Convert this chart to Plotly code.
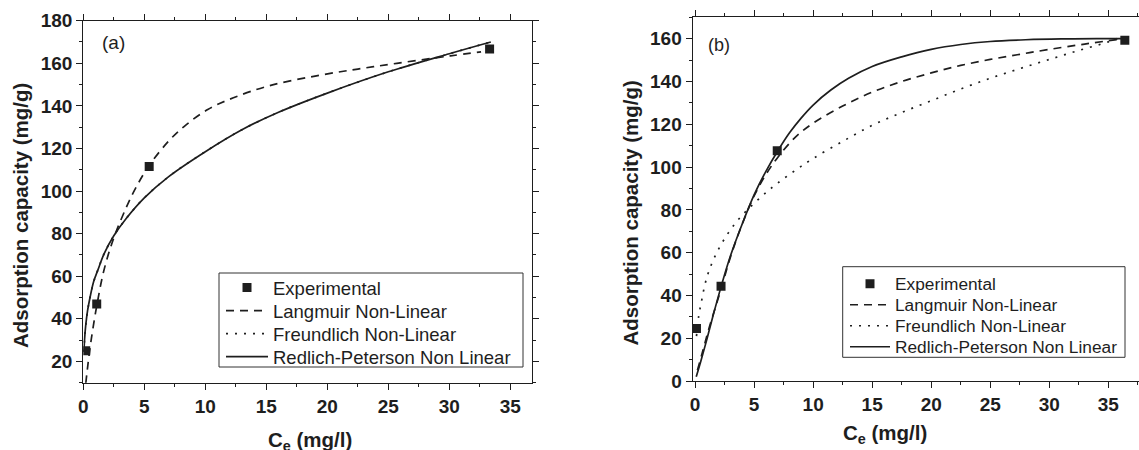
import plotly.graph_objects as go

# ---------------- data: panel (a) ----------------
exp_a_x = [0.2, 1.1, 5.4, 33.3]
exp_a_y = [25.0, 47.0, 111.5, 166.7]

lang_a_x = [0.2, 0.4, 0.67, 1.1, 1.7, 2.5, 3.5, 4.3, 5.4, 7.0, 8.4, 10.2, 12.3, 15.2, 19.0, 22.5, 25.7, 30.1, 32.6]
lang_a_y = [9.5, 19.5, 31.0, 46.0, 63.0, 78.0, 92.0, 101.5, 112.0, 123.5, 131.0, 138.3, 143.8, 149.4, 154.0, 157.3, 160.0, 163.5, 165.4]

freu_a_x = [0.05, 0.1, 0.2, 0.35, 0.55, 0.85, 1.2, 1.7, 2.5, 3.5, 5.0, 7.0, 10.0, 13.0, 16.0, 20.0, 25.0, 30.0, 33.4]
freu_a_y = [24.5, 30.0, 37.0, 43.8, 50.0, 57.5, 63.0, 70.5, 79.0, 87.0, 96.8, 106.8, 118.5, 128.8, 137.0, 146.0, 156.0, 164.5, 170.0]

rp_a_x = [0.05, 0.1, 0.2, 0.35, 0.55, 0.85, 1.2, 1.7, 2.5, 3.5, 5.0, 7.0, 10.0, 13.0, 16.0, 20.0, 25.0, 30.0, 33.4]
rp_a_y = [24.5, 30.0, 37.0, 43.8, 50.0, 57.5, 63.0, 70.5, 79.0, 87.0, 96.8, 106.8, 118.5, 128.8, 137.0, 146.0, 156.0, 164.5, 170.0]

# ---------------- data: panel (b) ----------------
exp_b_x = [0.12, 2.2, 6.96, 36.4]
exp_b_y = [24.5, 44.3, 107.6, 159.3]

lang_b_x = [0.2, 0.6, 1.2, 2.2, 3.0, 3.9, 5.0, 6.0, 7.0, 8.5, 10.0, 12.5, 15.0, 17.5, 20.0, 22.5, 25.0, 27.5, 30.0, 33.0, 36.3]
lang_b_y = [5.0, 13.0, 25.0, 43.0, 58.0, 72.0, 86.5, 96.5, 104.5, 114.0, 120.5, 128.5, 135.0, 140.0, 144.0, 147.5, 150.3, 152.7, 155.0, 157.5, 160.0]

freu_b_x = [0.12, 0.3, 0.5, 1.0, 1.75, 2.67, 3.6, 4.8, 6.0, 7.0, 8.5, 10.0, 12.5, 15.0, 17.5, 20.0, 22.5, 25.0, 27.5, 30.0, 32.5, 35.0, 36.2]
freu_b_y = [21.0, 30.0, 36.0, 48.5, 59.0, 68.0, 75.0, 82.0, 88.0, 92.5, 98.5, 104.0, 112.0, 119.5, 125.5, 131.0, 136.5, 141.5, 146.0, 150.3, 154.5, 158.5, 161.0]

rp_b_x = [0.1, 0.5, 1.0, 1.5, 2.2, 3.0, 4.0, 5.0, 6.0, 7.0, 8.0, 9.0, 10.0, 11.5, 13.0, 15.0, 17.5, 20.0, 22.5, 25.0, 28.0, 31.0, 34.0, 36.3]
rp_b_y = [2.0, 9.5, 19.5, 30.0, 44.0, 58.5, 73.5, 87.0, 98.0, 107.5, 116.0, 123.0, 129.0, 136.0, 141.5, 147.0, 151.5, 155.0, 157.3, 158.7, 159.5, 159.9, 160.0, 160.0]

names = ["Experimental", "Langmuir Non-Linear", "Freundlich Non-Linear", "Redlich-Peterson Non Linear"]

# tick values / labels
x_ticks = [0, 5, 10, 15, 20, 25, 30, 35]
y_ticks_a = [20, 40, 60, 80, 100, 120, 140, 160, 180]
y_ticks_b = [0, 20, 40, 60, 80, 100, 120, 140, 160]

# ---------------- figure ----------------
W, H = 1139, 450
INK = "#1e1e1e"
FONT = "Liberation Sans, Arial, sans-serif"


def px_x(p):
    return p / W


def px_y(p):
    return 1 - p / H


fig = go.Figure()

leg_ids_a = ["legend", "legend2", "legend3", "legend4"]
leg_ids_b = ["legend5", "legend6", "legend7", "legend8"]


def add_panel(xa, ya, legs, ex, ey, lx, ly, fx, fy, rx, ry):
    fig.add_trace(go.Scatter(x=fx, y=fy, mode="lines", name=names[2], legend=legs[2],
                             line=dict(color=INK, width=1.7, dash="2px,7px"),
                             xaxis=xa, yaxis=ya, line_shape="spline"))
    fig.add_trace(go.Scatter(x=lx, y=ly, mode="lines", name=names[1], legend=legs[1],
                             line=dict(color=INK, width=1.7, dash="8px,6px"),
                             xaxis=xa, yaxis=ya, line_shape="spline"))
    fig.add_trace(go.Scatter(x=rx, y=ry, mode="lines", name=names[3], legend=legs[3],
                             line=dict(color=INK, width=1.7),
                             xaxis=xa, yaxis=ya, line_shape="spline"))
    fig.add_trace(go.Scatter(x=ex, y=ey, mode="markers", name=names[0], legend=legs[0],
                             marker=dict(symbol="square", size=9, color=INK),
                             xaxis=xa, yaxis=ya))


add_panel("x", "y", leg_ids_a, exp_a_x, exp_a_y, lang_a_x, lang_a_y, freu_a_x, freu_a_y, rp_a_x, rp_a_y)
add_panel("x2", "y2", leg_ids_b, exp_b_x, exp_b_y, lang_b_x, lang_b_y, freu_b_x, freu_b_y, rp_b_x, rp_b_y)

tickfont = dict(family=FONT, size=19, color=INK)


def bold(vals):
    return [f"<b>{v}</b>" for v in vals]


def axis_common(mirror, ticks):
    return dict(showline=True, linecolor=INK, linewidth=1.3, mirror=mirror,
                ticks="outside", ticklen=6, tickwidth=1.2, tickcolor=INK,
                tickmode="array", tickvals=ticks, ticktext=bold(ticks),
                showgrid=False, zeroline=False, tickfont=tickfont, automargin=False)


layout = dict(
    width=W, height=H,
    margin=dict(l=0, r=0, t=0, b=0),
    paper_bgcolor="white", plot_bgcolor="white",
    showlegend=True,
    xaxis=dict(domain=[px_x(83.3), px_x(532.3)], range=[0, 36.8],
               minor=dict(dtick=2.5, tick0=0, ticks="outside", ticklen=3, tickcolor=INK),
               anchor="y", **axis_common("allticks", x_ticks)),
    yaxis=dict(domain=[px_y(382.7), px_y(20.7)], range=[10, 180],
               minor=dict(dtick=10, tick0=0, ticks="outside", ticklen=3, tickcolor=INK),
               anchor="x", **axis_common("allticks", y_ticks_a)),
    xaxis2=dict(domain=[px_x(692.7), 1.0], range=[-0.2, 37.6],
                minor=dict(dtick=2.5, tick0=0, ticks="outside", ticklen=3, tickcolor=INK),
                anchor="y2", **axis_common("allticks", x_ticks)),
    yaxis2=dict(domain=[px_y(381), px_y(17.3)], range=[0, 170],
                minor=dict(dtick=10, tick0=0, ticks="outside", ticklen=3, tickcolor=INK),
                anchor="x2", **axis_common(False, y_ticks_b)),
)

rows_a = [288, 311, 334, 357]
rows_b = [284, 305, 326, 347]
for lid, yc in zip(leg_ids_a, rows_a):
    layout[lid] = dict(x=px_x(221), y=px_y(yc), xanchor="left", yanchor="middle",
                       bgcolor="rgba(0,0,0,0)", borderwidth=0,
                       font=dict(family=FONT, size=18.5, color=INK), itemwidth=42)
for lid, yc in zip(leg_ids_b, rows_b):
    layout[lid] = dict(x=px_x(845), y=px_y(yc), xanchor="left", yanchor="middle",
                       bgcolor="rgba(0,0,0,0)", borderwidth=0,
                       font=dict(family=FONT, size=17.3, color=INK), itemwidth=40)

fig.update_layout(**layout)

for (x0, y0, x1, y1) in [(219, 273, 523, 367), (842.7, 266.7, 1125, 357.3)]:
    fig.add_shape(type="rect", xref="paper", yref="paper",
                  x0=px_x(x0), x1=px_x(x1), y0=px_y(y1), y1=px_y(y0),
                  line=dict(color="#333", width=1), fillcolor="white", layer="above")

title_font = dict(family=FONT, size=20.5, color=INK)
annos = [
    dict(text="(a)", x=px_x(113.5), y=px_y(42.7), yanchor="middle", font=dict(family=FONT, size=19, color=INK)),
    dict(text="(b)", x=px_x(719), y=px_y(45), yanchor="middle", font=dict(family=FONT, size=18, color=INK)),
    dict(text="<b>Adsorption capacity (mg/g)</b>", x=px_x(20), y=px_y(216), yanchor="middle", textangle=-90, font=title_font),
    dict(text="<b>Adsorption capacity (mg/g)</b>", x=px_x(630), y=px_y(213.5), yanchor="middle", textangle=-90, font=title_font),
    dict(text="<b>C<sub>e</sub> (mg/l)</b>", x=px_x(310), y=px_y(426), yanchor="top", font=title_font),
    dict(text="<b>C<sub>e</sub> (mg/l)</b>", x=px_x(885), y=px_y(419), yanchor="top", font=title_font),
]
for a in annos:
    fig.add_annotation(xref="paper", yref="paper", showarrow=False, xanchor="center", **a)

fig.write_html("out.html", config={"displayModeBar": False},
               post_script="document.body.style.margin='0';document.body.style.overflow='hidden';")
